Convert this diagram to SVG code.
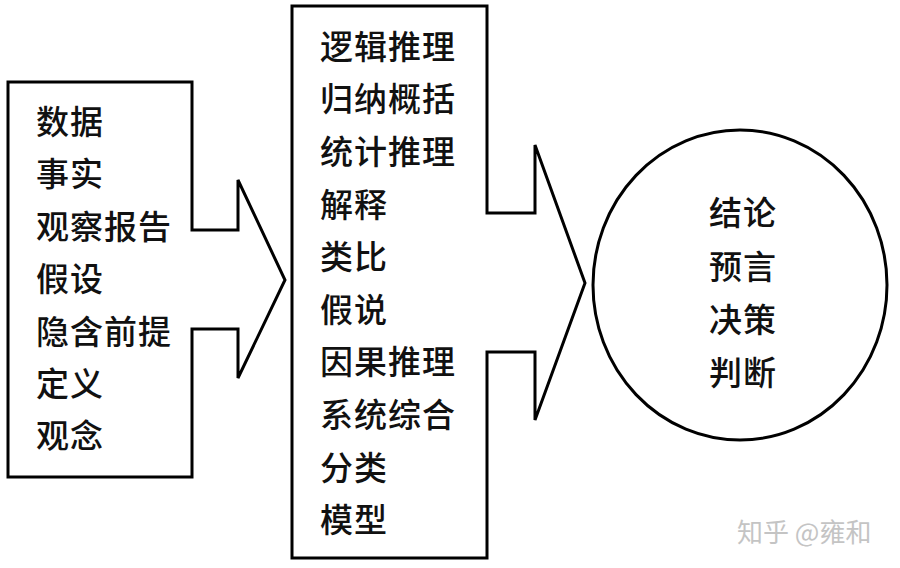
<svg xmlns="http://www.w3.org/2000/svg" width="900" height="568" viewBox="0 0 900 568">
<style>
.shape{fill:#fff;stroke:#000;stroke-width:3;stroke-linejoin:miter}
.t{font-family:"Noto Sans CJK SC","Noto Sans CJK JP",sans-serif;font-size:33px;font-weight:500;fill:#111;letter-spacing:1px}
.wm{font-family:"Noto Sans CJK SC",sans-serif;font-size:26px;fill:#c4c4c4}
</style>
<rect width="900" height="568" fill="#fff"/>
<g id="connectors"></g>
<g id="inputs">
<path class="shape" d="M8,82 H192 V230 H238 V180 L285,280 L238,378 V329 H192 V477 H8 Z"/>
<text class="t" x="36" y="134">数据</text>
<text class="t" x="36" y="186">事实</text>
<text class="t" x="36" y="239">观察报告</text>
<text class="t" x="36" y="291">假设</text>
<text class="t" x="36" y="344">隐含前提</text>
<text class="t" x="36" y="396">定义</text>
<text class="t" x="36" y="448">观念</text>
</g>
<g id="methods">
<path class="shape" d="M292,6 H487 V213 H535 V145 L585,283 L535,420 V352 H487 V558 H292 Z"/>
<text class="t" x="320" y="59">逻辑推理</text>
<text class="t" x="320" y="111">归纳概括</text>
<text class="t" x="320" y="164">统计推理</text>
<text class="t" x="320" y="217">解释</text>
<text class="t" x="320" y="269">类比</text>
<text class="t" x="320" y="322">假说</text>
<text class="t" x="320" y="374">因果推理</text>
<text class="t" x="320" y="427">系统综合</text>
<text class="t" x="320" y="480">分类</text>
<text class="t" x="320" y="532">模型</text>
</g>
<g id="results">
<ellipse class="shape" cx="740" cy="285" rx="147" ry="155"/>
<text class="t" x="709" y="225">结论</text>
<text class="t" x="709" y="279">预言</text>
<text class="t" x="709" y="332">决策</text>
<text class="t" x="709" y="385">判断</text>
</g>
<text class="wm" x="737" y="542">知乎 @雍和</text>
</svg>
